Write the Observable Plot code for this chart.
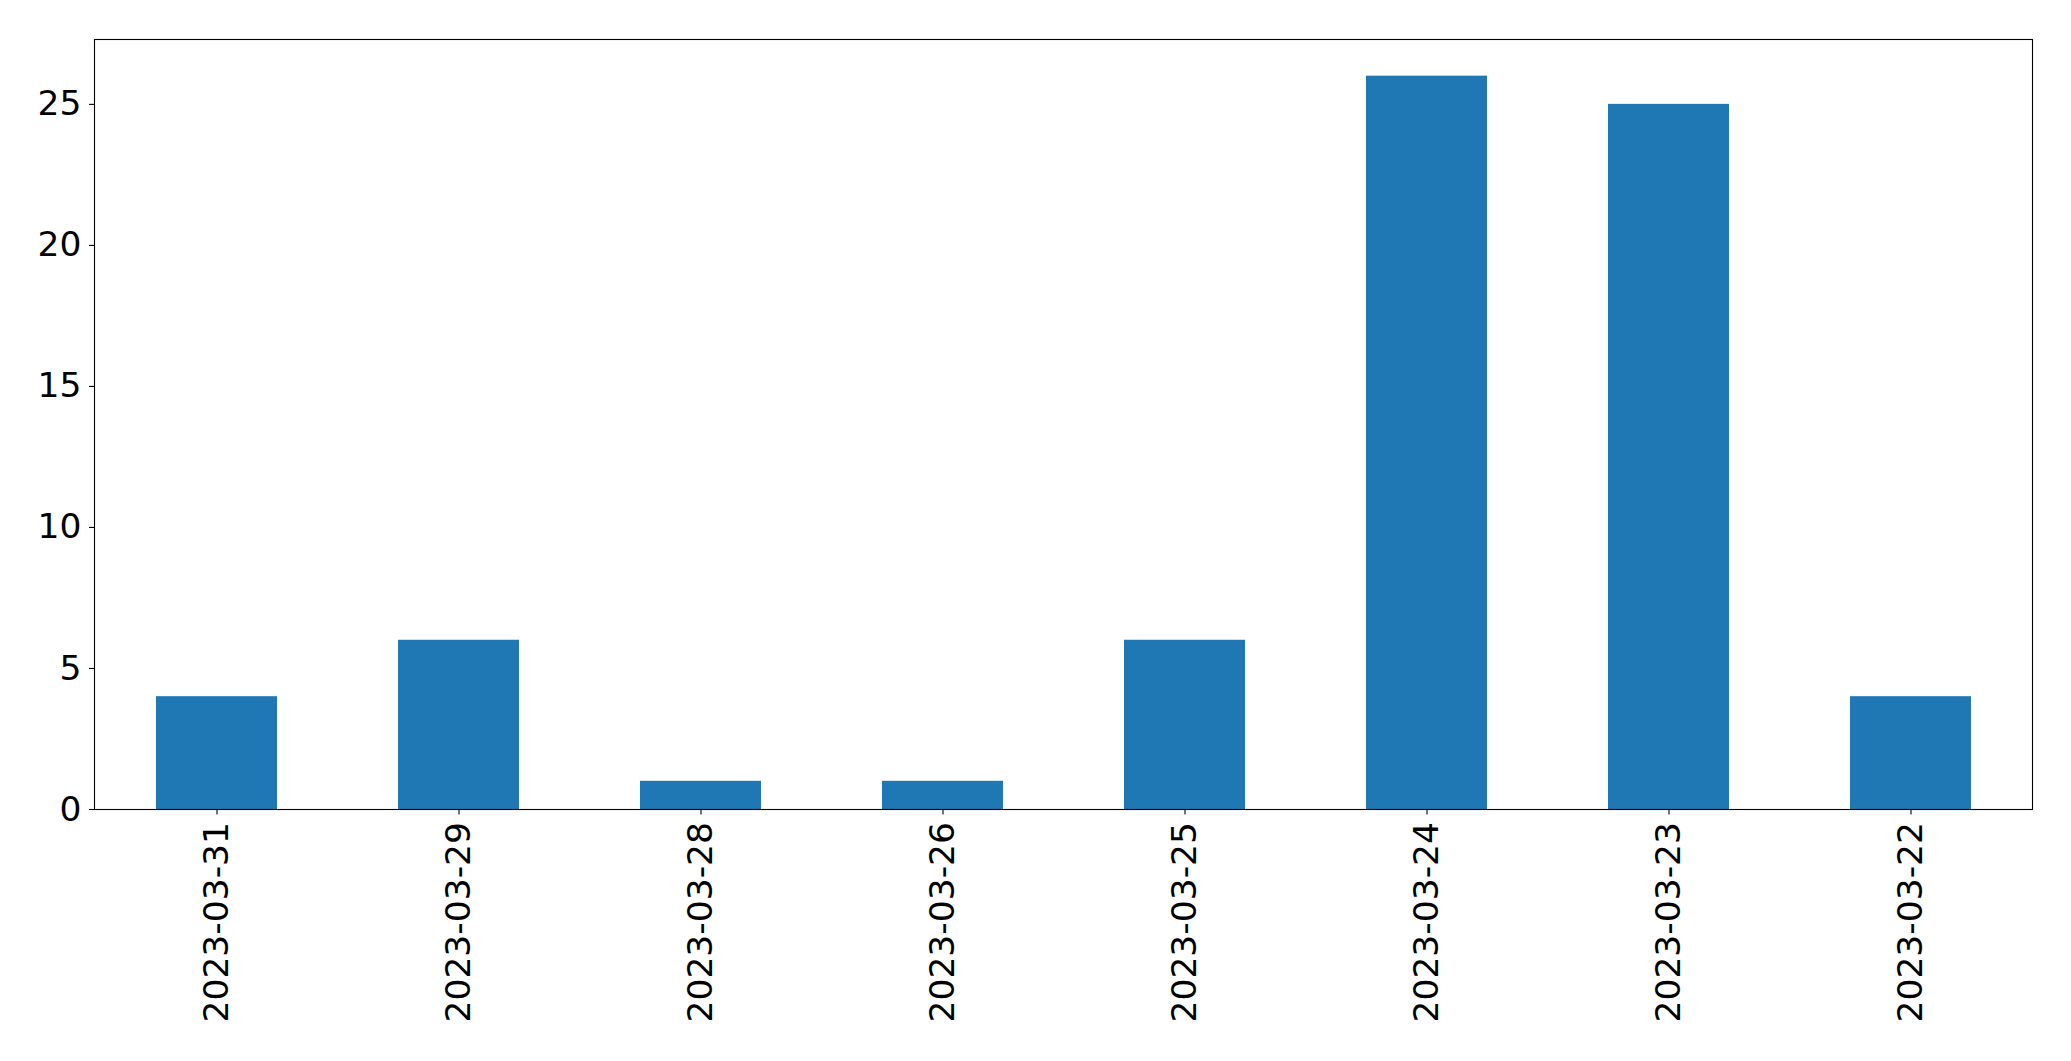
<!DOCTYPE html>
<html>
<head>
<meta charset="utf-8">
<script src="https://cdn.jsdelivr.net/npm/d3@7"></script>
<script src="https://cdn.jsdelivr.net/npm/@observablehq/plot@0.6"></script>
<style>
  html, body { margin: 0; padding: 0; background: white; }
</style>
</head>
<body>
<div id="chart"></div>
<script>
const dates = ["2023-03-31", "2023-03-29", "2023-03-28", "2023-03-26", "2023-03-25", "2023-03-24", "2023-03-23", "2023-03-22"];
const counts = [4, 6, 1, 1, 6, 26, 25, 4];
const yTicks = [0, 5, 10, 15, 20, 25];

const data = dates.map((d, i) => ({date: d, count: counts[i]}));

const chart = Plot.plot({
  width: 2071,
  height: 1061,
  marginLeft: 94,
  marginRight: 39,
  marginTop: 39,
  marginBottom: 252,
  style: {fontFamily: "DejaVu Sans", fontSize: "34.5px", color: "black", background: "white", overflow: "visible"},
  x: {domain: dates, paddingInner: 0.5, paddingOuter: 0.25, label: null},
  y: {domain: [0, 27.3], label: null},
  marks: [
    Plot.barY(data, {x: "date", y: "count", fill: "#1f77b4"}),
    Plot.axisX({tickRotate: -90, tickSize: 5.5, tickPadding: 7, strokeWidth: 1.1, label: null}),
    Plot.axisY({ticks: yTicks, tickSize: 5, tickPadding: 8, strokeWidth: 1.1, label: null}),
    Plot.frame({stroke: "black", strokeWidth: 1.1})
  ]
});
document.getElementById("chart").appendChild(chart);
</script>
</body>
</html>
